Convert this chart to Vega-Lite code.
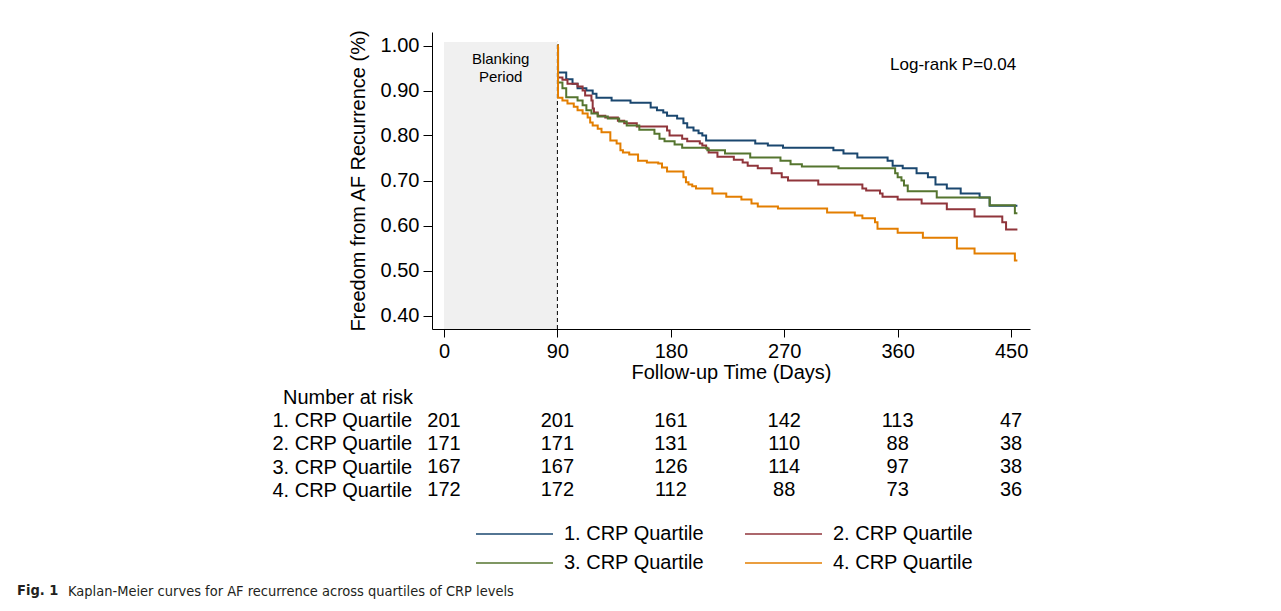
{
  "$schema": "https://vega.github.io/schema/vega-lite/v6.json",
  "padding": {"left": 17, "top": 29, "right": 10, "bottom": 8},
  "background": "white",
  "datasets": {
    "km": [
      {"group": "1. CRP Quartile", "day": 90, "surv": 1.0},
      {"group": "1. CRP Quartile", "day": 90.5, "surv": 0.94},
      {"group": "1. CRP Quartile", "day": 97, "surv": 0.925},
      {"group": "1. CRP Quartile", "day": 102, "surv": 0.915},
      {"group": "1. CRP Quartile", "day": 106, "surv": 0.905},
      {"group": "1. CRP Quartile", "day": 113, "surv": 0.9},
      {"group": "1. CRP Quartile", "day": 118, "surv": 0.893},
      {"group": "1. CRP Quartile", "day": 121, "surv": 0.884},
      {"group": "1. CRP Quartile", "day": 133, "surv": 0.878},
      {"group": "1. CRP Quartile", "day": 148, "surv": 0.873},
      {"group": "1. CRP Quartile", "day": 164, "surv": 0.862},
      {"group": "1. CRP Quartile", "day": 169, "surv": 0.856},
      {"group": "1. CRP Quartile", "day": 174, "surv": 0.851},
      {"group": "1. CRP Quartile", "day": 177, "surv": 0.844},
      {"group": "1. CRP Quartile", "day": 185, "surv": 0.838},
      {"group": "1. CRP Quartile", "day": 190, "surv": 0.827},
      {"group": "1. CRP Quartile", "day": 193, "surv": 0.818},
      {"group": "1. CRP Quartile", "day": 198, "surv": 0.811},
      {"group": "1. CRP Quartile", "day": 202, "surv": 0.805},
      {"group": "1. CRP Quartile", "day": 205, "surv": 0.8},
      {"group": "1. CRP Quartile", "day": 208, "surv": 0.789},
      {"group": "1. CRP Quartile", "day": 247, "surv": 0.782},
      {"group": "1. CRP Quartile", "day": 257, "surv": 0.778},
      {"group": "1. CRP Quartile", "day": 269, "surv": 0.773},
      {"group": "1. CRP Quartile", "day": 309, "surv": 0.767},
      {"group": "1. CRP Quartile", "day": 317, "surv": 0.76},
      {"group": "1. CRP Quartile", "day": 328, "surv": 0.751},
      {"group": "1. CRP Quartile", "day": 352, "surv": 0.744},
      {"group": "1. CRP Quartile", "day": 356, "surv": 0.733},
      {"group": "1. CRP Quartile", "day": 364, "surv": 0.727},
      {"group": "1. CRP Quartile", "day": 375, "surv": 0.716},
      {"group": "1. CRP Quartile", "day": 384, "surv": 0.707},
      {"group": "1. CRP Quartile", "day": 390, "surv": 0.691},
      {"group": "1. CRP Quartile", "day": 399, "surv": 0.682},
      {"group": "1. CRP Quartile", "day": 410, "surv": 0.671},
      {"group": "1. CRP Quartile", "day": 425, "surv": 0.662},
      {"group": "1. CRP Quartile", "day": 433, "surv": 0.644},
      {"group": "1. CRP Quartile", "day": 455, "surv": 0.644},

      {"group": "2. CRP Quartile", "day": 90, "surv": 1.0},
      {"group": "2. CRP Quartile", "day": 90.5, "surv": 0.929},
      {"group": "2. CRP Quartile", "day": 94, "surv": 0.924},
      {"group": "2. CRP Quartile", "day": 98, "surv": 0.915},
      {"group": "2. CRP Quartile", "day": 106, "surv": 0.909},
      {"group": "2. CRP Quartile", "day": 110, "surv": 0.9},
      {"group": "2. CRP Quartile", "day": 112, "surv": 0.889},
      {"group": "2. CRP Quartile", "day": 117, "surv": 0.878},
      {"group": "2. CRP Quartile", "day": 118, "surv": 0.86},
      {"group": "2. CRP Quartile", "day": 119, "surv": 0.851},
      {"group": "2. CRP Quartile", "day": 122, "surv": 0.844},
      {"group": "2. CRP Quartile", "day": 128, "surv": 0.84},
      {"group": "2. CRP Quartile", "day": 138, "surv": 0.833},
      {"group": "2. CRP Quartile", "day": 143, "surv": 0.827},
      {"group": "2. CRP Quartile", "day": 153, "surv": 0.82},
      {"group": "2. CRP Quartile", "day": 177, "surv": 0.811},
      {"group": "2. CRP Quartile", "day": 179, "surv": 0.8},
      {"group": "2. CRP Quartile", "day": 189, "surv": 0.793},
      {"group": "2. CRP Quartile", "day": 193, "surv": 0.787},
      {"group": "2. CRP Quartile", "day": 203, "surv": 0.782},
      {"group": "2. CRP Quartile", "day": 205, "surv": 0.778},
      {"group": "2. CRP Quartile", "day": 208, "surv": 0.771},
      {"group": "2. CRP Quartile", "day": 210, "surv": 0.762},
      {"group": "2. CRP Quartile", "day": 217, "surv": 0.753},
      {"group": "2. CRP Quartile", "day": 230, "surv": 0.746},
      {"group": "2. CRP Quartile", "day": 237, "surv": 0.74},
      {"group": "2. CRP Quartile", "day": 241, "surv": 0.733},
      {"group": "2. CRP Quartile", "day": 249, "surv": 0.727},
      {"group": "2. CRP Quartile", "day": 260, "surv": 0.716},
      {"group": "2. CRP Quartile", "day": 268, "surv": 0.707},
      {"group": "2. CRP Quartile", "day": 273, "surv": 0.7},
      {"group": "2. CRP Quartile", "day": 297, "surv": 0.691},
      {"group": "2. CRP Quartile", "day": 332, "surv": 0.682},
      {"group": "2. CRP Quartile", "day": 335, "surv": 0.678},
      {"group": "2. CRP Quartile", "day": 346, "surv": 0.671},
      {"group": "2. CRP Quartile", "day": 348, "surv": 0.664},
      {"group": "2. CRP Quartile", "day": 360, "surv": 0.658},
      {"group": "2. CRP Quartile", "day": 379, "surv": 0.649},
      {"group": "2. CRP Quartile", "day": 399, "surv": 0.636},
      {"group": "2. CRP Quartile", "day": 421, "surv": 0.62},
      {"group": "2. CRP Quartile", "day": 443, "surv": 0.607},
      {"group": "2. CRP Quartile", "day": 446, "surv": 0.591},
      {"group": "2. CRP Quartile", "day": 455, "surv": 0.591},

      {"group": "3. CRP Quartile", "day": 90, "surv": 1.0},
      {"group": "3. CRP Quartile", "day": 90.5, "surv": 0.918},
      {"group": "3. CRP Quartile", "day": 94, "surv": 0.905},
      {"group": "3. CRP Quartile", "day": 97, "surv": 0.885},
      {"group": "3. CRP Quartile", "day": 106, "surv": 0.878},
      {"group": "3. CRP Quartile", "day": 110, "surv": 0.867},
      {"group": "3. CRP Quartile", "day": 113, "surv": 0.856},
      {"group": "3. CRP Quartile", "day": 117, "surv": 0.849},
      {"group": "3. CRP Quartile", "day": 122, "surv": 0.842},
      {"group": "3. CRP Quartile", "day": 130, "surv": 0.838},
      {"group": "3. CRP Quartile", "day": 139, "surv": 0.831},
      {"group": "3. CRP Quartile", "day": 145, "surv": 0.822},
      {"group": "3. CRP Quartile", "day": 155, "surv": 0.813},
      {"group": "3. CRP Quartile", "day": 167, "surv": 0.804},
      {"group": "3. CRP Quartile", "day": 171, "surv": 0.793},
      {"group": "3. CRP Quartile", "day": 175, "surv": 0.787},
      {"group": "3. CRP Quartile", "day": 183, "surv": 0.78},
      {"group": "3. CRP Quartile", "day": 189, "surv": 0.773},
      {"group": "3. CRP Quartile", "day": 209, "surv": 0.767},
      {"group": "3. CRP Quartile", "day": 223, "surv": 0.76},
      {"group": "3. CRP Quartile", "day": 243, "surv": 0.751},
      {"group": "3. CRP Quartile", "day": 267, "surv": 0.744},
      {"group": "3. CRP Quartile", "day": 275, "surv": 0.736},
      {"group": "3. CRP Quartile", "day": 284, "surv": 0.731},
      {"group": "3. CRP Quartile", "day": 313, "surv": 0.727},
      {"group": "3. CRP Quartile", "day": 358, "surv": 0.716},
      {"group": "3. CRP Quartile", "day": 360, "surv": 0.707},
      {"group": "3. CRP Quartile", "day": 363, "surv": 0.7},
      {"group": "3. CRP Quartile", "day": 365, "surv": 0.689},
      {"group": "3. CRP Quartile", "day": 368, "surv": 0.676},
      {"group": "3. CRP Quartile", "day": 391, "surv": 0.662},
      {"group": "3. CRP Quartile", "day": 433, "surv": 0.645},
      {"group": "3. CRP Quartile", "day": 453, "surv": 0.627},
      {"group": "3. CRP Quartile", "day": 455, "surv": 0.627},

      {"group": "4. CRP Quartile", "day": 90, "surv": 1.0},
      {"group": "4. CRP Quartile", "day": 90.5, "surv": 0.884},
      {"group": "4. CRP Quartile", "day": 94, "surv": 0.878},
      {"group": "4. CRP Quartile", "day": 98, "surv": 0.871},
      {"group": "4. CRP Quartile", "day": 103, "surv": 0.864},
      {"group": "4. CRP Quartile", "day": 106, "surv": 0.856},
      {"group": "4. CRP Quartile", "day": 110, "surv": 0.849},
      {"group": "4. CRP Quartile", "day": 114, "surv": 0.84},
      {"group": "4. CRP Quartile", "day": 116, "surv": 0.829},
      {"group": "4. CRP Quartile", "day": 118, "surv": 0.822},
      {"group": "4. CRP Quartile", "day": 122, "surv": 0.815},
      {"group": "4. CRP Quartile", "day": 125, "surv": 0.807},
      {"group": "4. CRP Quartile", "day": 132, "surv": 0.789},
      {"group": "4. CRP Quartile", "day": 137, "surv": 0.782},
      {"group": "4. CRP Quartile", "day": 140, "surv": 0.767},
      {"group": "4. CRP Quartile", "day": 142, "surv": 0.762},
      {"group": "4. CRP Quartile", "day": 147, "surv": 0.758},
      {"group": "4. CRP Quartile", "day": 154, "surv": 0.744},
      {"group": "4. CRP Quartile", "day": 161, "surv": 0.74},
      {"group": "4. CRP Quartile", "day": 170, "surv": 0.738},
      {"group": "4. CRP Quartile", "day": 173, "surv": 0.729},
      {"group": "4. CRP Quartile", "day": 177, "surv": 0.72},
      {"group": "4. CRP Quartile", "day": 190, "surv": 0.707},
      {"group": "4. CRP Quartile", "day": 192, "surv": 0.696},
      {"group": "4. CRP Quartile", "day": 194, "surv": 0.691},
      {"group": "4. CRP Quartile", "day": 197, "surv": 0.687},
      {"group": "4. CRP Quartile", "day": 200, "surv": 0.682},
      {"group": "4. CRP Quartile", "day": 213, "surv": 0.671},
      {"group": "4. CRP Quartile", "day": 224, "surv": 0.664},
      {"group": "4. CRP Quartile", "day": 236, "surv": 0.658},
      {"group": "4. CRP Quartile", "day": 244, "surv": 0.649},
      {"group": "4. CRP Quartile", "day": 249, "surv": 0.642},
      {"group": "4. CRP Quartile", "day": 265, "surv": 0.638},
      {"group": "4. CRP Quartile", "day": 304, "surv": 0.629},
      {"group": "4. CRP Quartile", "day": 326, "surv": 0.622},
      {"group": "4. CRP Quartile", "day": 332, "surv": 0.616},
      {"group": "4. CRP Quartile", "day": 342, "surv": 0.607},
      {"group": "4. CRP Quartile", "day": 344, "surv": 0.593},
      {"group": "4. CRP Quartile", "day": 360, "surv": 0.584},
      {"group": "4. CRP Quartile", "day": 380, "surv": 0.573},
      {"group": "4. CRP Quartile", "day": 407, "surv": 0.549},
      {"group": "4. CRP Quartile", "day": 421, "surv": 0.538},
      {"group": "4. CRP Quartile", "day": 453, "surv": 0.522},
      {"group": "4. CRP Quartile", "day": 455, "surv": 0.522}
    ],
    "risk": [
      {"group": "1. CRP Quartile", "day": 0, "n": 201},
      {"group": "1. CRP Quartile", "day": 90, "n": 201},
      {"group": "1. CRP Quartile", "day": 180, "n": 161},
      {"group": "1. CRP Quartile", "day": 270, "n": 142},
      {"group": "1. CRP Quartile", "day": 360, "n": 113},
      {"group": "1. CRP Quartile", "day": 450, "n": 47},
      {"group": "2. CRP Quartile", "day": 0, "n": 171},
      {"group": "2. CRP Quartile", "day": 90, "n": 171},
      {"group": "2. CRP Quartile", "day": 180, "n": 131},
      {"group": "2. CRP Quartile", "day": 270, "n": 110},
      {"group": "2. CRP Quartile", "day": 360, "n": 88},
      {"group": "2. CRP Quartile", "day": 450, "n": 38},
      {"group": "3. CRP Quartile", "day": 0, "n": 167},
      {"group": "3. CRP Quartile", "day": 90, "n": 167},
      {"group": "3. CRP Quartile", "day": 180, "n": 126},
      {"group": "3. CRP Quartile", "day": 270, "n": 114},
      {"group": "3. CRP Quartile", "day": 360, "n": 97},
      {"group": "3. CRP Quartile", "day": 450, "n": 38},
      {"group": "4. CRP Quartile", "day": 0, "n": 172},
      {"group": "4. CRP Quartile", "day": 90, "n": 172},
      {"group": "4. CRP Quartile", "day": 180, "n": 112},
      {"group": "4. CRP Quartile", "day": 270, "n": 88},
      {"group": "4. CRP Quartile", "day": 360, "n": 73},
      {"group": "4. CRP Quartile", "day": 450, "n": 36}
    ],
    "blank": [
      {"start": 0, "end": 90, "label": "Blanking Period"}
    ],
    "note": [
      {"text": "Log-rank P=0.04"}
    ]
  },
  "title": {
    "text": "Fig. 1",
    "orient": "bottom",
    "anchor": "start",
    "font": "DejaVu Sans Condensed, sans-serif",
    "fontSize": 14.5,
    "fontWeight": "bold",
    "color": "#231f20",
    "dx": -51,
    "offset": -14.5
  },
  "vconcat": [
    {
      "title": {
        "text": "Kaplan-Meier curves for AF recurrence across quartiles of CRP levels",
        "orient": "bottom",
        "anchor": "start",
        "font": "DejaVu Sans Condensed, sans-serif",
        "fontSize": 14.5,
        "fontWeight": "normal",
        "color": "#231f20",
        "dx": -204,
        "offset": 83
      },
      "spacing": 6,
      "vconcat": [
        {
          "width": 598,
          "height": 297,
          "layer": [
            {
              "data": {"name": "blank"},
              "mark": {"type": "rect", "color": "#f0f0f0"},
              "encoding": {
                "x": {"field": "start", "type": "quantitative", "scale": {"domain": [-9.5, 465], "nice": false, "zero": false}},
                "x2": {"field": "end"},
                "y": {"datum": 0.37, "type": "quantitative", "scale": {"domain": [0.37, 1.03], "nice": false, "zero": false}},
                "y2": {"datum": 1.008}
              }
            },
            {
              "data": {"name": "blank"},
              "mark": {"type": "rule", "color": "#000", "strokeWidth": 1, "strokeDash": [4, 3]},
              "encoding": {
                "x": {"field": "end", "type": "quantitative", "scale": {"domain": [-9.5, 465], "nice": false, "zero": false}},
                "y": {"datum": 0.37, "type": "quantitative", "scale": {"domain": [0.37, 1.03], "nice": false, "zero": false}},
                "y2": {"datum": 1.008}
              }
            },
            {
              "data": {"name": "blank"},
              "mark": {"type": "text", "fontSize": 15, "lineBreak": " ", "lineHeight": 18, "baseline": "middle", "align": "center", "color": "#000"},
              "encoding": {
                "x": {"datum": 45, "type": "quantitative", "scale": {"domain": [-9.5, 465], "nice": false, "zero": false}},
                "y": {"datum": 0.97, "type": "quantitative", "scale": {"domain": [0.37, 1.03], "nice": false, "zero": false}},
                "text": {"field": "label"}
              }
            },
            {
              "data": {"name": "note"},
              "mark": {"type": "text", "fontSize": 17, "baseline": "middle", "align": "center", "color": "#000"},
              "encoding": {
                "x": {"datum": 404, "type": "quantitative", "scale": {"domain": [-9.5, 465], "nice": false, "zero": false}},
                "y": {"datum": 0.957, "type": "quantitative", "scale": {"domain": [0.37, 1.03], "nice": false, "zero": false}},
                "text": {"field": "text"}
              }
            },
            {
              "data": {"name": "km"},
              "mark": {"type": "line", "interpolate": "step-after", "strokeWidth": 2},
              "encoding": {
                "x": {
                  "field": "day", "type": "quantitative",
                  "scale": {"domain": [-9.5, 465], "nice": false, "zero": false},
                  "axis": {"values": [0, 90, 180, 270, 360, 450], "title": "Follow-up Time (Days)", "tickSize": 8, "labelPadding": 4, "titlePadding": 1, "labelFlush": false}
                },
                "y": {
                  "field": "surv", "type": "quantitative",
                  "scale": {"domain": [0.37, 1.03], "nice": false, "zero": false},
                  "axis": {"values": [0.4, 0.5, 0.6, 0.7, 0.8, 0.9, 1.0], "format": ".2f", "title": "Freedom from AF Recurrence (%)", "tickSize": 9, "labelPadding": 4, "titlePadding": 12}
                },
                "color": {
                  "field": "group", "type": "nominal",
                  "scale": {"domain": ["1. CRP Quartile", "2. CRP Quartile", "3. CRP Quartile", "4. CRP Quartile"], "range": ["#1a476f", "#90353b", "#55752f", "#e37e00"]},
                  "legend": {
                    "orient": "none", "legendX": 43, "legendY": 492,
                    "direction": "horizontal", "columns": 2, "title": null,
                    "symbolType": "stroke", "symbolSize": 5929, "symbolStrokeWidth": 1.5,
                    "clipHeight": 20, "labelFontSize": 20, "labelColor": "#000", "labelOffset": 10,
                    "columnPadding": 39, "rowPadding": 9, "padding": 0
                  }
                }
              }
            }
          ]
        },
        {
          "width": 598,
          "height": 93,
          "title": {"text": "Number at risk", "anchor": "start", "frame": "bounds", "fontSize": 20, "fontWeight": "normal", "color": "#000", "dx": 11, "offset": 1},
          "data": {"name": "risk"},
          "mark": {"type": "text", "fontSize": 20, "color": "#000", "baseline": "middle"},
          "encoding": {
            "x": {"field": "day", "type": "quantitative", "scale": {"domain": [-9.5, 465], "nice": false, "zero": false}, "axis": null},
            "y": {
              "field": "group", "type": "nominal",
              "scale": {"domain": ["1. CRP Quartile", "2. CRP Quartile", "3. CRP Quartile", "4. CRP Quartile"], "paddingInner": 0, "paddingOuter": 0},
              "axis": {"title": null, "domain": false, "ticks": false, "labelAlign": "left", "labelPadding": 160, "labelFontSize": 20, "labelColor": "#000"}
            },
            "text": {"field": "n", "type": "quantitative"}
          }
        }
      ]
    }
  ],
  "config": {
    "font": "Liberation Sans",
    "view": {"stroke": null},
    "axis": {
      "grid": false,
      "domainColor": "#000",
      "tickColor": "#000",
      "labelColor": "#000",
      "titleColor": "#000",
      "labelFontSize": 20,
      "titleFontSize": 20,
      "titleFontWeight": "normal",
      "labelFont": "Liberation Sans",
      "titleFont": "Liberation Sans",
      "domainWidth": 1,
      "tickWidth": 1
    },
    "legend": {"labelFont": "Liberation Sans"},
    "title": {"color": "#000", "fontWeight": "normal"}
  }
}
